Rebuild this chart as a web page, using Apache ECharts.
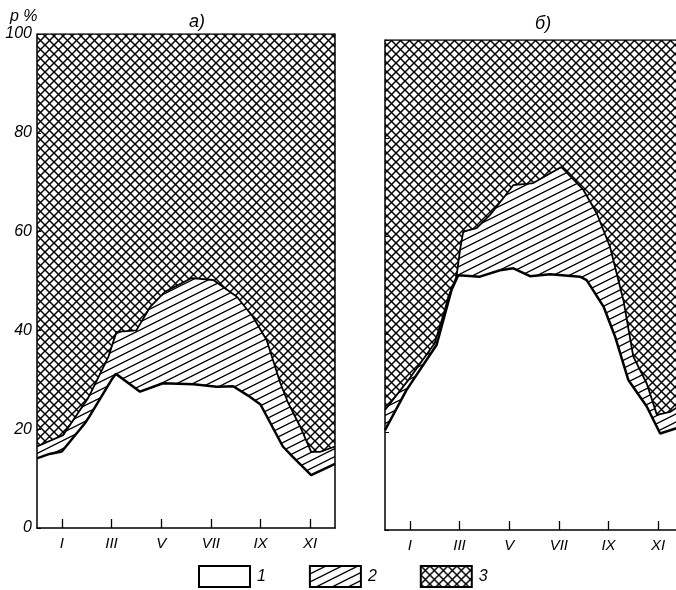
<!DOCTYPE html>
<html>
<head>
<meta charset="utf-8">
<script src="https://cdn.jsdelivr.net/npm/echarts@6/dist/echarts.min.js"></script>
<style>
  html, body { margin: 0; padding: 0; background: #fff; }
  #chart { width: 676px; height: 590px; }
</style>
</head>
<body>
<div id="chart"></div>
<script>
// подписи осей
const monthTicks = [1, 3, 5, 7, 9, 11];
const monthLabels = ['I', 'III', 'V', 'VII', 'IX', 'XI'];

// 3 - верхняя граница (100 %)
const edgeMonths = [0, 12];
const total = [100, 100];

// а) граница 1 (белая область) и 2 (штриховка)
const monthsA1 = [0, 0.5, 1.0, 1.93, 2.1, 3.0, 3.18, 4.15, 5.07, 6.3, 7.24, 7.9, 8.5, 9.0, 9.9, 10.3, 11.04, 12];
const pA1 = [14.1, 15, 15.5, 21.2, 22.5, 30, 31.2, 27.6, 29.3, 29.1, 28.6, 28.7, 26.8, 25, 16.5, 14.4, 10.7, 13];
const monthsA2 = [0, 1.05, 2.06, 2.88, 3.2, 4.0, 4.55, 5.15, 6.23, 7.1, 8.05, 8.7, 9.25, 9.8, 10.1, 10.6, 11.04, 11.4, 12];
const pA2 = [16.5, 18.8, 26.3, 34.7, 39.7, 40, 44.7, 47.8, 50.6, 50.2, 46.8, 42.7, 38, 29.3, 25.5, 20.5, 15.4, 15.4, 16.5];

// б)
const monthsB1 = [0, 0.87, 2.08, 2.68, 2.95, 3.82, 4.63, 5.17, 5.84, 6.65, 7.85, 8.12, 8.8, 9.27, 9.8, 10.54, 11.08, 11.75];
const pB1 = [20.4, 28.6, 37.8, 49, 52, 51.7, 53, 53.4, 51.8, 52.2, 51.7, 51, 45.6, 39.4, 30.6, 25.2, 19.7, 20.8];
const monthsB2 = [0, 1.0, 2.0, 2.41, 2.55, 2.88, 3.02, 3.15, 3.69, 4.23, 4.76, 5.17, 5.97, 7.1, 7.99, 8.53, 9.06, 9.6, 10.0, 10.54, 10.95, 11.48, 11.75];
const pB2 = [24.5, 31, 38.1, 44.9, 47.6, 51.7, 57.1, 60.9, 61.6, 64.3, 67.7, 70.4, 70.8, 74.1, 69.4, 64.6, 57.8, 46.9, 35.4, 29.9, 23.5, 24.1, 25];

function pairs(xs, ys) {
  return xs.map((x, i) => [x, ys[i]]);
}

// косая штриховка
function hatchCanvas() {
  const c = document.createElement('canvas');
  c.width = 16; c.height = 8;
  const ctx = c.getContext('2d');
  ctx.fillStyle = '#fff';
  ctx.fillRect(0, 0, 16, 8);
  ctx.strokeStyle = '#000';
  ctx.lineWidth = 1.3;
  for (let k = -1; k <= 1; k++) {
    ctx.beginPath();
    ctx.moveTo(-16, 16 + k * 8);
    ctx.lineTo(32, -8 + k * 8);
    ctx.stroke();
  }
  return c;
}

// сетка
function crossCanvas() {
  const p = 9;
  const c = document.createElement('canvas');
  c.width = p; c.height = p;
  const ctx = c.getContext('2d');
  ctx.fillStyle = '#fff';
  ctx.fillRect(0, 0, p, p);
  ctx.strokeStyle = '#000';
  ctx.lineWidth = 1.5;
  for (let k = -1; k <= 1; k++) {
    ctx.beginPath();
    ctx.moveTo(-p + k * p, -p);
    ctx.lineTo(2 * p + k * p, 2 * p);
    ctx.stroke();
    ctx.beginPath();
    ctx.moveTo(-p + k * p, 2 * p);
    ctx.lineTo(2 * p + k * p, -p);
    ctx.stroke();
  }
  return c;
}

const hatch = { image: hatchCanvas(), repeat: 'repeat' };
const cross = { image: crossCanvas(), repeat: 'repeat' };
const font = 'Liberation Sans';

function xAxisFor(gridIndex) {
  return {
    type: 'value', gridIndex: gridIndex, min: 0, max: 12, z: 10,
    axisLine: { lineStyle: { color: '#000', width: 1.5 } },
    axisTick: { inside: true, length: 9, customValues: monthTicks, lineStyle: { color: '#000', width: 1.3 } },
    axisLabel: {
      customValues: monthTicks, margin: 8,
      formatter: v => monthLabels[monthTicks.indexOf(v)] || '',
      color: '#000', fontFamily: font, fontStyle: 'italic', fontSize: 15
    },
    splitLine: { show: false }
  };
}

function yAxisFor(gridIndex, showLabels) {
  return {
    type: 'value', gridIndex: gridIndex, min: 0, max: 100, interval: 20, z: 10,
    axisLine: { show: true, lineStyle: { color: '#000', width: 1.5 } },
    axisTick: { show: true, inside: true, length: 4, lineStyle: { color: '#000' } },
    axisLabel: {
      show: showLabels, margin: 5,
      color: '#000', fontFamily: font, fontStyle: 'italic', fontSize: 16
    },
    splitLine: { show: false }
  };
}

function rightAxisFor(gridIndex) {
  return {
    type: 'value', gridIndex: gridIndex, position: 'right', min: 0, max: 100, z: 10,
    axisLine: { show: true, lineStyle: { color: '#000', width: 1.5 } },
    axisTick: { show: false }, axisLabel: { show: false }, splitLine: { show: false }
  };
}

function panelSeries(axisIndex, months1, p1, months2, p2) {
  const base = { type: 'line', xAxisIndex: axisIndex, yAxisIndex: axisIndex * 2, symbol: 'none', silent: true, color: '#000' };
  return [
    Object.assign({}, base, {
      name: '3', data: pairs(edgeMonths, total),
      lineStyle: { color: '#000', width: 1.5 },
      areaStyle: { color: cross, opacity: 1 }
    }),
    Object.assign({}, base, {
      name: '2', data: pairs(months2, p2),
      lineStyle: { color: '#000', width: 1.8 },
      areaStyle: { color: hatch, opacity: 1 }
    }),
    Object.assign({}, base, {
      name: '1', data: pairs(months1, p1),
      lineStyle: { color: '#000', width: 2.5 },
      areaStyle: { color: '#fff', opacity: 1 }
    })
  ];
}

const chart = echarts.init(document.getElementById('chart'), null, { renderer: 'canvas' });
chart.setOption({
  animation: false,
  backgroundColor: '#fff',
  title: [
    { text: 'p %', left: 5, top: 4, textStyle: { fontFamily: font, fontStyle: 'italic', fontWeight: 'normal', fontSize: 16, color: '#000' } },
    { text: 'а)', left: 184, top: 8, textStyle: { fontFamily: font, fontStyle: 'italic', fontWeight: 'normal', fontSize: 18, color: '#000' } },
    { text: 'б)', left: 530, top: 10, textStyle: { fontFamily: font, fontStyle: 'italic', fontWeight: 'normal', fontSize: 18, color: '#000' } }
  ],
  grid: [
    { left: 37, top: 34, width: 298, height: 494, outerBoundsMode: 'none' },
    { left: 385, top: 40, width: 298, height: 490, outerBoundsMode: 'none' }
  ],
  xAxis: [xAxisFor(0), xAxisFor(1)],
  yAxis: [yAxisFor(0, true), rightAxisFor(0), yAxisFor(1, false), rightAxisFor(1)],
  legend: {
    left: 198, top: 565, padding: 0, icon: 'rect', selectedMode: false,
    itemWidth: 51, itemHeight: 21, itemGap: 43,
    itemStyle: { borderColor: '#000', borderWidth: 2 },
    textStyle: { fontFamily: font, fontStyle: 'italic', fontSize: 16, color: '#000', padding: [0, 0, 0, 2] },
    data: [
      { name: '1', itemStyle: { color: '#fff' } },
      { name: '2', itemStyle: { color: hatch } },
      { name: '3', itemStyle: { color: cross } }
    ]
  },
  series: [].concat(
    panelSeries(0, monthsA1, pA1, monthsA2, pA2),
    panelSeries(1, monthsB1, pB1, monthsB2, pB2)
  )
});
</script>
</body>
</html>
